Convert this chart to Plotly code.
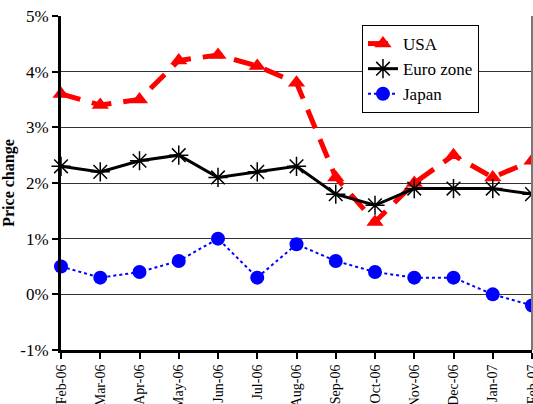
import plotly.graph_objects as go

months = ["Feb-06", "Mar-06", "Apr-06", "May-06", "Jun-06", "Jul-06", "Aug-06",
          "Sep-06", "Oct-06", "Nov-06", "Dec-06", "Jan-07", "Feb-07"]
usa = [3.6, 3.4, 3.5, 4.2, 4.3, 4.1, 3.8, 2.1, 1.3, 2.0, 2.5, 2.1, 2.4]
euro = [2.3, 2.2, 2.4, 2.5, 2.1, 2.2, 2.3, 1.8, 1.6, 1.9, 1.9, 1.9, 1.8]
japan = [0.5, 0.3, 0.4, 0.6, 1.0, 0.3, 0.9, 0.6, 0.4, 0.3, 0.3, 0.0, -0.2]
y_ticks = [-1, 0, 1, 2, 3, 4, 5]
y_labels = ["-1%", "0%", "1%", "2%", "3%", "4%", "5%"]

x = list(range(len(months)))
font = "Liberation Serif"

fig = go.Figure()
fig.add_trace(go.Scatter(
    x=x, y=usa, name="USA", mode="lines+markers", cliponaxis=False,
    line=dict(color="#ff0000", width=5, dash="20px,12px"),
    marker=dict(symbol="triangle-up", size=15, color="#ff0000"),
))
fig.add_trace(go.Scatter(
    x=x, y=euro, name="Euro zone", mode="lines+markers", cliponaxis=False,
    line=dict(color="#000000", width=3),
    marker=dict(symbol="asterisk-open", size=16,
                line=dict(color="#333333", width=1.5)),
))
fig.add_trace(go.Scatter(
    x=x, y=japan, name="Japan", mode="lines+markers", cliponaxis=False,
    line=dict(color="#0000ff", width=2, dash="dot"),
    marker=dict(symbol="circle", size=14, color="#0000ff"),
))

fig.update_layout(
    width=533, height=404,
    margin=dict(l=61, r=1, t=16, b=54),
    paper_bgcolor="white", plot_bgcolor="white",
    font=dict(family=font, color="#000000"),
    showlegend=True,
    legend=dict(
        x=0.639, y=0.973, xanchor="left", yanchor="top",
        bgcolor="white", bordercolor="black", borderwidth=1,
        font=dict(size=17, family=font, color="#000000"),
        tracegroupgap=0, itemwidth=30,
    ),
    xaxis=dict(
        range=[0, 12], tickmode="array", tickvals=x, ticktext=months,
        tickangle=-90, tickfont=dict(size=14, family=font),
        ticklabeloverflow="allow",
        showgrid=False, zeroline=False, automargin=False,
        showline=True, linecolor="black", linewidth=3,
        ticks="outside", ticklen=6, tickwidth=2, tickcolor="black",
    ),
    yaxis=dict(
        range=[-1, 5], tickmode="array", tickvals=y_ticks, ticktext=y_labels,
        tickfont=dict(size=17, family=font), automargin=False,
        showgrid=True, gridcolor="#333333", gridwidth=1, zeroline=False,
        showline=True, linecolor="black", linewidth=3,
        ticks="outside", ticklen=6, tickwidth=2, tickcolor="black",
        title=dict(text="<b>Price change</b>", font=dict(size=16, family=font), standoff=6),
    ),
    shapes=[
        dict(type="line", xref="paper", yref="paper", x0=1, x1=1, y0=0, y1=1,
             line=dict(color="#777777", width=2)),
    ],
)

fig.write_html("out.html", config={"displayModeBar": False},
               post_script="document.body.style.margin='0';")
